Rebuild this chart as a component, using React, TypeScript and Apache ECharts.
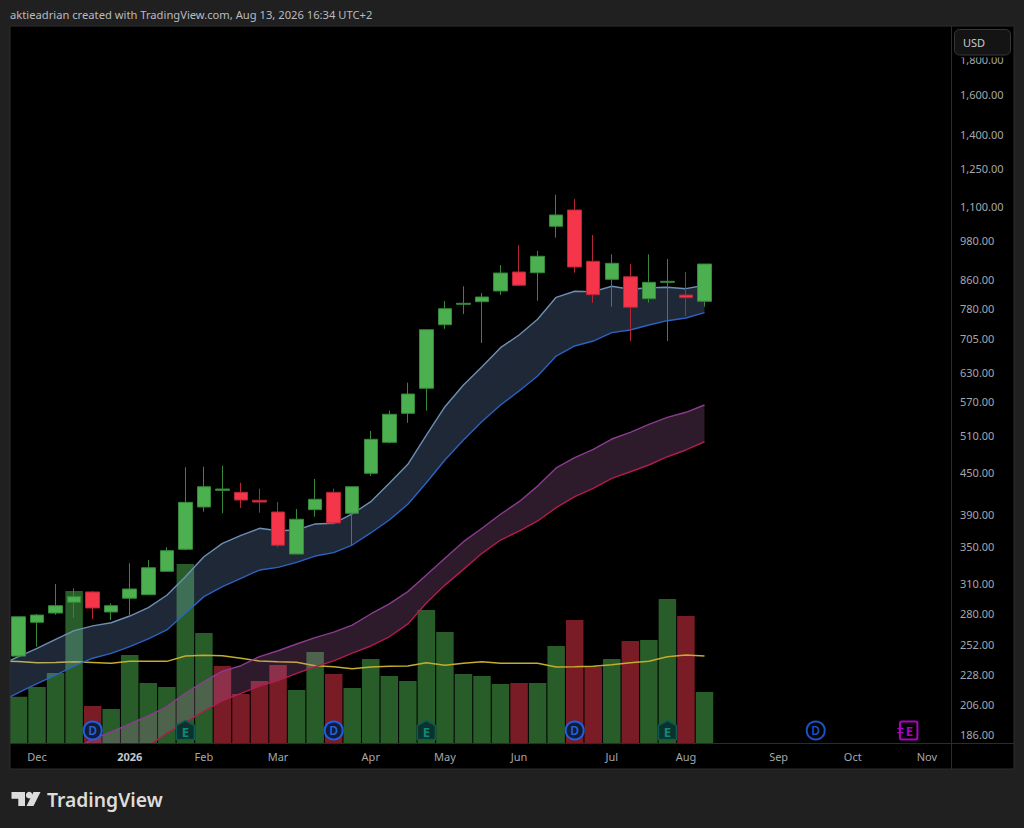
import React, { useEffect, useRef } from "react";
import * as echarts from "echarts";

const weeks = [
  "2025-11-17","2025-11-24","2025-12-01","2025-12-08","2025-12-15","2025-12-22","2025-12-29",
  "2026-01-05","2026-01-12","2026-01-19","2026-01-26","2026-02-02","2026-02-09","2026-02-16","2026-02-23",
  "2026-03-02","2026-03-09","2026-03-16","2026-03-23","2026-03-30","2026-04-06","2026-04-13","2026-04-20","2026-04-27",
  "2026-05-04","2026-05-11","2026-05-18","2026-05-25","2026-06-01","2026-06-08","2026-06-15","2026-06-22","2026-06-29",
  "2026-07-06","2026-07-13","2026-07-20","2026-07-27","2026-08-03","2026-08-10","2026-08-17","2026-08-24","2026-08-31",
  "2026-09-07","2026-09-14","2026-09-21","2026-09-28","2026-10-05","2026-10-12","2026-10-19","2026-10-26",
  "2026-11-02","2026-11-09","2026-11-16",
];

const monthWeeks = ["2025-12-01","2026-01-05","2026-02-02","2026-03-02","2026-04-06","2026-05-04","2026-06-01","2026-07-06","2026-08-03","2026-09-07","2026-10-05","2026-11-02"];
const monthLabels = ["Dec","2026","Feb","Mar","Apr","May","Jun","Jul","Aug","Sep","Oct","Nov"];

const priceTicks = [1800,1600,1400,1250,1100,980,860,780,705,630,570,510,450,390,350,310,280,252,228,206,186];

// [open, close, low, high]; the first week lies just left of the visible panel
const candles: (number | string)[][] = [
  ["-","-","-","-"],
  [242.5,276.8,242.5,277.5],[271.7,278.4,250.3,279.4],[280.3,287.3,278.7,309],[290.6,296.2,275.9,304.6],
  [300.9,285.1,274.7,301.9],[281.3,287.3,273.8,289.6],[294.6,303.9,278.4,331.3],[298.1,326.4,298.1,335],
  [322.5,345.7,322.5,349.7],[347.3,406.7,346.1,457.5],[400.4,428.6,394.1,458.4],[423.5,425.3,392,460],
  [420.6,409.9,399.1,434.4],[409.5,407.1,392.8,425.8],[393.7,352,349.7,407.1],[341.8,384.2,341.8,397.7],
  [396.8,410.9,387.6,439.9],[420.6,379.4,377,425.8],[392,428.6,352.3,428.6],[448.4,502.7,444.3,517],
  [497.6,546.8,495.9,553.5],[548.6,585.4,531.5,608.1],[596.8,726.7,553.5,726.7],[739,779.9,729.2,800.4],
  [791.5,794.2,766,841],[798.5,811.2,694.9,822.2],[827.8,879.3,816.6,903.3],[882.3,843.8,843.8,966.1],
  [880.3,930.2,801.2,947],[1028.9,1068.7,990.2,1144.1],[1086.9,897.3,880.3,1127.9],[914.7,817.4,795.8,999.1],
  [860.9,908.5,785.1,936.3],[868.4,783.6,699.6,906.3],[806.6,852.2,795.8,936.3],[852.2,855.1,699.6,921.8],
  [816.6,809.3,760.8,882.3],[799.6,906.3,785.1,906.3],
];

const volumes = [null,46.3,56,70,152,37,34,88,60,56,179,110,77,49,62,78,53,91,69,55,84,67,62,133,111,69,67,59,60,60,97,123,76,84,102,103,144,127,51];
const volumeMA = [82,81.5,80.3,80.5,81.3,80.5,79.7,81.7,81.7,81.7,87,87.7,87.3,84.7,82,81.3,80.7,77.3,76.3,74.3,76,76.7,77,80.3,77.7,79.7,81.3,79.7,79.7,79.7,76,76.3,76.7,78.3,80.3,81.7,86.3,88,87];

const fastUpper = [235.3,242,248.9,256.6,264.2,268.4,271.3,277.5,285.4,297.6,316.7,338.7,354.3,364,372.7,369.7,370.6,378.2,379,391.1,407.6,433.6,462.2,510,561,603.4,641.7,684.1,713.9,752.7,810.4,827,825.9,841,832.5,837,838.1,834.2,844];
const fastLower = [207.8,214.4,221,227.5,234.5,240.8,244.8,250.3,256.9,264.8,280.1,296.2,306.3,315,323.9,326.8,332.4,339.5,343.4,352.3,366.9,383.3,404,434.4,468.9,501.5,533.6,564.2,591.4,622,665.2,688,699.6,719.5,726,738.3,749.1,756,769.5];
const slowUpper = [null,null,null,null,176.9,183.5,188,193,198.3,204.6,214.2,222.5,230.6,234.8,242.1,246.9,252.6,258,262.8,269.2,279.4,289,301.2,318.5,336.9,356.3,372.7,390.7,407.6,429.5,456.5,472.5,486.1,503.2,514.7,528.6,541.3,550.5,564.2];
const slowLower = [null,null,null,null,154,159.5,166.5,172.7,179.2,187.2,193.9,201.6,208.7,214,219.3,223.3,228.8,234,238.6,245,250.9,258.8,270.2,289.9,307.9,324.6,342.6,358.3,369.3,382,399.5,414.5,426.3,440.9,450.8,461.1,474.1,485,498.6];

const dividendWeeks = ["2025-12-22","2026-03-23","2026-06-22","2026-09-21"];
const earningsWeeks = ["2026-01-26","2026-04-27","2026-07-27"];
const nextEarningsWeeks = ["2026-10-26"];

const PAGE = "#202020";
const FRAME = "#2c2c2c";
const TEXT = "#a5a7ad";
const FONT = '"Noto Sans", sans-serif';

const fmtPrice = (v: number) =>
  Math.round(v).toLocaleString("en-US") + ".00";

function bandSeries(upper: (number | null)[], lower: (number | null)[], fill: string) {
  const rows = upper
    .map((u, i) => [i, u, lower[i]])
    .filter((r) => r[1] != null && r[2] != null);
  return {
    type: "custom",
    z: 3,
    clip: true,
    silent: true,
    encode: { x: 0, y: [1, 2] },
    data: rows,
    renderItem: (params: any, api: any) => {
      if (params.dataIndex !== 0) return null;
      const top = rows.map((r) => api.coord([r[0], r[1]]));
      const bottom = rows.map((r) => api.coord([r[0], r[2]])).reverse();
      return { type: "polygon", shape: { points: top.concat(bottom) }, style: { fill, stroke: "none" } };
    },
  };
}

function lineSeries(values: (number | null)[], color: string, yAxisIndex = 0, z = 4) {
  return {
    type: "line",
    data: values,
    yAxisIndex,
    z,
    symbol: "none",
    silent: true,
    lineStyle: { color, width: 1.4 },
  };
}

function markerSeries(list: string[], kind: "D" | "E" | "N") {
  return {
    type: "custom",
    z: 7,
    silent: true,
    clip: false,
    encode: { x: 0, y: 1 },
    data: list.map((w) => [weeks.indexOf(w), 200]),
    renderItem: (_: any, api: any) => {
      const x = api.coord([api.value(0), 200])[0];
      const y = 730.5;
      if (kind === "D") {
        const future = api.value(0) > 39;
        return {
          type: "group",
          children: [
            { type: "circle", shape: { cx: x, cy: y, r: 9 }, style: { fill: future ? "#000" : "#0f1d38", stroke: future ? "#1a52c4" : "#1f5fe0", lineWidth: 2 } },
            { type: "text", style: { text: "D", x, y, fill: future ? "#1a52c4" : "#2a62d8", font: `600 12px ${FONT}`, align: "center", verticalAlign: "middle" } },
          ],
        };
      }
      if (kind === "E") {
        return {
          type: "group",
          children: [
            {
              type: "polygon",
              shape: { points: [[x, y - 10], [x + 9, y - 5], [x + 9, y + 9], [x - 9, y + 9], [x - 9, y - 5]] },
              style: { fill: "rgba(8,46,44,0.9)", stroke: "#0c5a52", lineWidth: 1.5 },
            },
            { type: "text", style: { text: "E", x, y: y + 1, fill: "#0f8a7a", font: `bold 13px ${FONT}`, align: "center", verticalAlign: "middle" } },
          ],
        };
      }
      return {
        type: "group",
        children: [
          { type: "rect", shape: { x: x - 8.5, y: y - 9, width: 17.5, height: 18, r: 2 }, style: { fill: "#000", stroke: "#b000c4", lineWidth: 2 } },
          { type: "line", shape: { x1: x - 11, y1: y - 2, x2: x - 5, y2: y - 2 }, style: { stroke: "#b000c4", lineWidth: 1.3 } },
          { type: "line", shape: { x1: x - 11, y1: y + 2, x2: x - 5, y2: y + 2 }, style: { stroke: "#b000c4", lineWidth: 1.3 } },
          { type: "text", style: { text: "E", x: x + 1, y, fill: "#b000c4", font: `bold 13px ${FONT}`, align: "center", verticalAlign: "middle" } },
        ],
      };
    },
  };
}

const strip = (x: number, y: number, width: number, height: number, fill = PAGE, z = 100) => ({
  type: "rect",
  z,
  silent: true,
  shape: { x, y, width, height },
  style: { fill },
});

export default function App() {
  const ref = useRef<HTMLDivElement>(null);
  useEffect(() => {
    document.body.style.margin = "0";
    const chart = echarts.init(ref.current!, undefined, { renderer: "svg" });
    const volumeColors = volumes.map((_, i) => {
      const c = candles[i][1] as number;
      const p = i > 1 ? (candles[i - 1][1] as number) : 0;
      return c < p ? "#7a1c26" : "#285c28";
    });
    chart.setOption({
      animation: false,
      backgroundColor: "#000",
      grid: { left: -9.31, right: 50.7, top: 26, bottom: 85, containLabel: false, outerBoundsMode: "none" },
      xAxis: {
        type: "category",
        data: weeks,
        boundaryGap: true,
        axisLine: { show: false },
        axisTick: { show: false },
        splitLine: { show: false },
        axisLabel: {
          margin: 8,
          color: TEXT,
          fontFamily: FONT,
          fontSize: 11,
          interval: (_: number, value: string) => monthWeeks.includes(value),
          formatter: (value: string) => {
            const label = monthLabels[monthWeeks.indexOf(value)] ?? "";
            return label === "2026" ? `{y|${label}}` : label;
          },
          rich: { y: { color: "#c4c6cb", fontWeight: "bold", fontFamily: FONT, fontSize: 11 } },
        },
      },
      yAxis: [
        {
          type: "log",
          logBase: 10,
          min: 181.06,
          max: 2017.8,
          position: "right",
          offset: -22.3,
          axisLine: { show: false },
          axisTick: { show: false },
          splitLine: { show: false },
          minorTick: { show: false },
          minorSplitLine: { show: false },
          axisLabel: {
            customValues: priceTicks,
            margin: 9,
            color: TEXT,
            fontFamily: FONT,
            fontSize: 11,
            align: "left",
            formatter: (v: number) => fmtPrice(v),
          },
        },
        { type: "value", show: false, min: 0, max: 717, splitLine: { show: false } },
      ],
      series: [
        {
          type: "bar",
          yAxisIndex: 1,
          z: 1,
          barWidth: 17.5,
          silent: true,
          data: volumes.map((v, i) => ({ value: v, itemStyle: { color: volumeColors[i] } })),
        },
        lineSeries(volumeMA, "#c4ad2c", 1, 2),
        bandSeries(slowUpper, slowLower, "rgba(225,130,215,0.2)"),
        bandSeries(fastUpper, fastLower, "rgba(141,182,250,0.22)"),
        lineSeries(fastUpper, "#6d8fb5"),
        lineSeries(fastLower, "#2a63c2"),
        lineSeries(slowUpper, "#8a3c8f"),
        lineSeries(slowLower, "#b01c50"),
        {
          type: "candlestick",
          z: 5,
          barWidth: 14,
          silent: true,
          data: candles,
          itemStyle: { color: "#4caf50", color0: "#f5364a", borderColor: "#37883b", borderColor0: "#b62635", borderWidth: 1 },
        },
        markerSeries(dividendWeeks, "D"),
        markerSeries(earningsWeeks, "E"),
        markerSeries(nextEarningsWeeks, "N"),
      ],
      graphic: {
        elements: [
          strip(0, 0, 1024, 26),
          strip(0, 0, 10, 828),
          strip(1014, 0, 10, 828),
          strip(0, 769, 1024, 59),
          strip(10, 25.5, 1004, 1, FRAME),
          strip(9.5, 26, 1, 743, FRAME),
          strip(1013.5, 26, 1, 743, FRAME),
          strip(10, 768.5, 1004, 1, FRAME),
          strip(951, 26, 1, 743, FRAME),
          strip(10, 743, 1004, 1, FRAME),
          strip(952, 27, 61, 30.5, "#000"),
          {
            type: "rect",
            z: 101,
            silent: true,
            shape: { x: 954.5, y: 29.5, width: 56, height: 25.5, r: 5 },
            style: { fill: "#141414", stroke: "#363636", lineWidth: 1 },
          },
          {
            type: "text",
            z: 102,
            silent: true,
            style: { text: "USD", x: 963, y: 42, fill: "#c8cad0", font: `11px ${FONT}`, verticalAlign: "middle" },
          },
          {
            type: "text",
            z: 102,
            silent: true,
            style: {
              text: "aktieadrian created with TradingView.com, Aug 13, 2026 16:34 UTC+2",
              x: 10,
              y: 14.5,
              fill: "#b9bbc0",
              font: `11.2px ${FONT}`,
              verticalAlign: "middle",
            },
          },
          {
            type: "polygon",
            z: 102,
            silent: true,
            shape: { points: [[11.5, 792], [25, 792], [25, 806], [18.3, 806], [18.3, 798.7], [11.5, 798.7]] },
            style: { fill: "#dcdcdc" },
          },
          { type: "circle", z: 102, silent: true, shape: { cx: 29.2, cy: 795.2, r: 3.3 }, style: { fill: "#dcdcdc" } },
          {
            type: "polygon",
            z: 102,
            silent: true,
            shape: { points: [[33.5, 792], [40.5, 792], [33.5, 806], [26.5, 806]] },
            style: { fill: "#dcdcdc" },
          },
          {
            type: "text",
            z: 102,
            silent: true,
            style: { text: "TradingView", x: 47, y: 799, fill: "#dcdcdc", font: `600 19.3px ${FONT}`, verticalAlign: "middle" },
          },
        ],
      },
    });
    return () => chart.dispose();
  }, []);
  return <div ref={ref} style={{ position: "absolute", left: 0, top: 0, width: 1024, height: 828 }} />;
}
